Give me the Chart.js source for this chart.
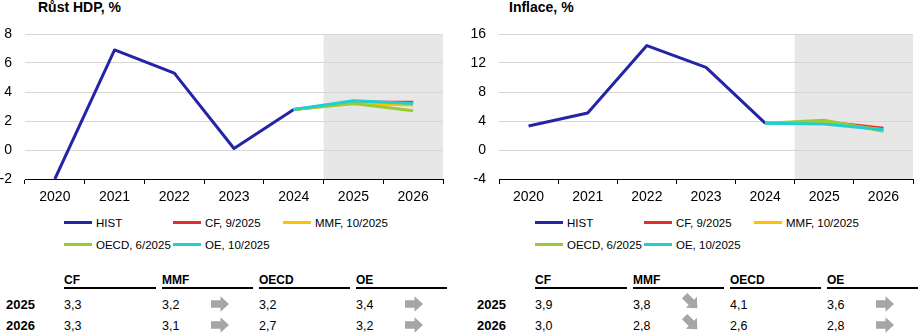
<!DOCTYPE html>
<html><head><meta charset="utf-8">
<script src="https://cdn.jsdelivr.net/npm/chart.js@4/dist/chart.umd.min.js"></script>
<style>
body{margin:0;width:919px;height:333px;overflow:hidden;background:#fff;font-family:"Liberation Sans",Arial,sans-serif;color:#000;position:relative}
.abs{position:absolute;white-space:nowrap}
.title{font-weight:bold;font-size:14px;line-height:16px}
.leg{font-size:11.5px;line-height:14px;height:14px}
.sw{display:inline-block;width:28px;height:3px;vertical-align:middle;margin-right:4px;position:relative;top:-1px}
.th{font-weight:bold;font-size:12px;line-height:14px}
.ul{height:1.5px;background:#000}
.td{font-size:12.5px;line-height:14px}
.rl{font-weight:bold;font-size:13px;line-height:14px}
</style></head><body>
<div class="abs title" style="left:38px;top:-1px">Růst HDP, %</div>
<div class="abs title" style="left:509px;top:-1px">Inflace, %</div>
<div class="abs" style="left:0;top:0;width:460px;height:215px"><canvas id="c1" width="460" height="215"></canvas></div>
<div class="abs" style="left:460px;top:0;width:459px;height:215px"><canvas id="c2" width="459" height="215"></canvas></div>
<div id="extra"></div>
<script>
// ---- data ----
const years = ['2020','2021','2022','2023','2024','2025','2026'];
const firstForecastYear = '2025';
const seriesNames = ['HIST','CF, 9/2025','MMF, 10/2025','OECD, 6/2025','OE, 10/2025'];
const tableHeads = ['CF','MMF','OECD','OE'];
const tableYears = ['2025','2026'];

const gdpHist = [-2.0, 6.9, 5.3, 0.1, 2.8, null, null];
const gdpCF   = [null, null, null, null, 2.8, 3.3, 3.3];
const gdpMMF  = [null, null, null, null, 2.8, 3.2, 3.1];
const gdpOECD = [null, null, null, null, 2.8, 3.2, 2.7];
const gdpOE   = [null, null, null, null, 2.8, 3.4, 3.2];
const gdpTicks = {min: -2, max: 8, step: 2};
const gdpArrows = [[null, 'right', null, 'right'], [null, 'right', null, 'right']];

const cpiHist = [3.3, 5.1, 14.4, 11.4, 3.7, null, null];
const cpiCF   = [null, null, null, null, 3.7, 3.9, 3.0];
const cpiMMF  = [null, null, null, null, 3.7, 3.8, 2.8];
const cpiOECD = [null, null, null, null, 3.7, 4.1, 2.6];
const cpiOE   = [null, null, null, null, 3.7, 3.6, 2.8];
const cpiTicks = {min: -4, max: 16, step: 4};
const cpiArrows = [[null, 'down', null, 'right'], [null, 'down', null, 'right']];

// ---- styles ----
const colors = ['#2424A6', '#E0302A', '#FFC000', '#99CC33', '#1ECFD3'];
const FONT = '"Liberation Sans", Arial, sans-serif';

const shadePlugin = {
  id: 'shade',
  beforeDraw(chart) {
    const {ctx, chartArea: a, scales: {x}} = chart;
    const i = years.indexOf(firstForecastYear);
    const b = (x.getPixelForValue(i - 1) + x.getPixelForValue(i)) / 2;
    ctx.save();
    ctx.fillStyle = '#E7E7E7';
    ctx.fillRect(b, a.top, a.right - b, a.bottom - a.top);
    ctx.restore();
  }
};

function makeChart(id, series, ticks, yWidth, rightPad) {
  const datasets = series.map((d, i) => ({
    label: seriesNames[i], data: d, borderColor: colors[i], backgroundColor: colors[i],
    borderWidth: 3, pointRadius: 0, tension: 0, spanGaps: false,
    borderJoinStyle: 'round', borderCapStyle: 'butt', order: series.length - i
  }));
  new Chart(document.getElementById(id), {
    type: 'line',
    data: {labels: years, datasets},
    plugins: [shadePlugin],
    options: {
      responsive: false, animation: false, devicePixelRatio: 1,
      layout: {padding: {top: 34, right: rightPad, left: 0, bottom: 0}},
      plugins: {legend: {display: false}, tooltip: {enabled: false}},
      scales: {
        x: {
          offset: true,
          grid: {display: true, drawOnChartArea: false, drawTicks: true, tickLength: 5, color: '#000', offset: true},
          border: {display: true, color: '#000', width: 1},
          ticks: {color: '#000', font: {size: 14, family: FONT}, padding: 5, maxRotation: 0, autoSkip: false},
          afterFit(s) { s.height = 36; }
        },
        y: {
          min: ticks.min, max: ticks.max,
          ticks: {stepSize: ticks.step, color: '#000', font: {size: 14, family: FONT}, padding: 13},
          grid: {color: '#D6D6D6', drawTicks: false, lineWidth: 1},
          border: {display: false},
          afterFit(s) { s.width = yWidth; }
        }
      }
    }
  });
}

makeChart('c1', [gdpHist, gdpCF, gdpMMF, gdpOECD, gdpOE], gdpTicks, 25, 17);
makeChart('c2', [cpiHist, cpiCF, cpiMMF, cpiOECD, cpiOE], cpiTicks, 39, 6);

// ---- legend & table ----
const extra = document.getElementById('extra');
function el(html, left, top, cls) {
  const d = document.createElement('div');
  d.className = 'abs ' + (cls || '');
  d.style.left = left + 'px'; d.style.top = top + 'px';
  d.innerHTML = html; extra.appendChild(d); return d;
}
function arrowSvg(dir) {
  const rot = dir === 'down' ? 45 : 0;
  return '<svg width="20" height="20" viewBox="0 0 20 20"><polygon points="1,6.2 10.5,6.2 10.5,2.2 19,10 10.5,17.8 10.5,13.8 1,13.8" fill="#A6A6A6" transform="rotate(' + rot + ' 10 10)"/></svg>';
}
const fmt = v => v.toFixed(1).replace('.', ',');
function panel(off, fc, arrows) {
  const colX = [64, 173, 283], rowY = [223, 245];
  seriesNames.forEach((n, i) => {
    el('<span class="sw" style="background:' + colors[i] + '"></span>' + n, off + colX[i % 3], rowY[Math.floor(i / 3)] - 7, 'leg');
  });
  const hx = [64, 162, 259, 356], uw = [92, 91, 91, 91];
  tableHeads.forEach((h, j) => {
    el(h, off + hx[j], 273, 'th');
    const u = el('', off + hx[j], 287, 'ul'); u.style.width = uw[j] + 'px';
  });
  const ry = [305, 326];
  tableYears.forEach((y, r) => {
    const idx = years.indexOf(y);
    el(y, off + 6, ry[r] - 7, 'rl');
    tableHeads.forEach((h, j) => {
      el(fmt(fc[j][idx]), off + hx[j], ry[r] - 7, 'td');
      if (arrows[r][j]) el(arrowSvg(arrows[r][j]), off + hx[j] + 48, ry[r] - 11 - (arrows[r][j] === 'down' ? 2 : 0));
    });
  });
}
panel(0, [gdpCF, gdpMMF, gdpOECD, gdpOE], gdpArrows);
panel(471, [cpiCF, cpiMMF, cpiOECD, cpiOE], cpiArrows);
</script>
</body></html>
